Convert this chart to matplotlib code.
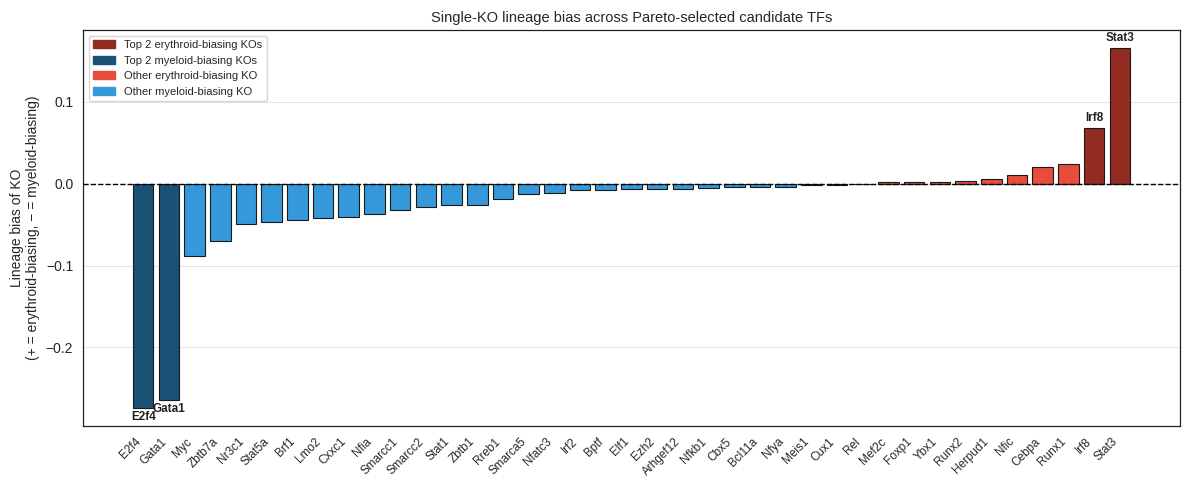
import numpy as np
import matplotlib
matplotlib.use("Agg")
import matplotlib.pyplot as plt
import seaborn as sns
from matplotlib.patches import Patch

tfs = ["E2f4", "Gata1", "Myc", "Zbtb7a", "Nr3c1", "Stat5a", "Brf1", "Lmo2", "Cxxc1", "Nfia",
       "Smarcc1", "Smarcc2", "Stat1", "Zbtb1", "Rreb1", "Smarca5", "Nfatc3", "Irf2", "Bptf", "Elf1",
       "Ezh2", "Arhgef12", "Nfkb1", "Cbx5", "Bcl11a", "Nfya", "Meis1", "Cux1", "Rel", "Mef2c",
       "Foxp1", "Ybx1", "Runx2", "Herpud1", "Nfic", "Cebpa", "Runx1", "Irf8", "Stat3"]
bias = [-0.274, -0.264, -0.088, -0.0698, -0.0489, -0.0465, -0.0441, -0.0416, -0.0404, -0.0367,
        -0.0318, -0.0282, -0.0257, -0.0255, -0.0184, -0.0122, -0.011, -0.0073, -0.0073, -0.006,
        -0.006, -0.006, -0.0049, -0.0035, -0.0035, -0.0035, -0.001, -0.001, -0.0003, 0.0018,
        0.002, 0.002, 0.004, 0.0055, 0.011, 0.0205, 0.024, 0.068, 0.166]
top_ery = ["Irf8", "Stat3"]
top_mye = ["E2f4", "Gata1"]

c_top_ery = "#922B21"
c_top_mye = "#1A5276"
c_ery = "#E74C3C"
c_mye = "#3498DB"

sns.set_style("white")
plt.rcParams['font.family'] = ['Liberation Sans', 'DejaVu Sans']

colors = []
for tf, v in zip(tfs, bias):
    if tf in top_ery:
        colors.append(c_top_ery)
    elif tf in top_mye:
        colors.append(c_top_mye)
    elif v > 0:
        colors.append(c_ery)
    else:
        colors.append(c_mye)

fig, ax = plt.subplots(figsize=(11.89, 4.9), dpi=100)
x = np.arange(len(tfs))
ax.bar(x, bias, color=colors, edgecolor="#1a1a1a", linewidth=0.8, width=0.8, zorder=3)
ax.axhline(0, color="black", linestyle="--", linewidth=1, zorder=4)
ax.grid(axis="y", color="#e6e6e6", linewidth=0.8, zorder=0)

# label the top hits
for i, (tf, v) in enumerate(zip(tfs, bias)):
    if tf in top_ery:
        ax.annotate(tf, (i, v), xytext=(0, 3), textcoords="offset points",
                    ha="center", va="bottom", fontsize=8.5, fontweight="bold", color="#222222")
    elif tf in top_mye:
        ax.annotate(tf, (i, v), xytext=(0, -2), textcoords="offset points",
                    ha="center", va="top", fontsize=8.5, fontweight="bold", color="#222222")

ax.set_xticks(x)
ax.set_xticklabels(tfs, rotation=45, ha="right", fontsize=8.5)
ax.tick_params(axis="y", labelsize=10)
ax.set_ylabel("Lineage bias of KO\n(+ = erythroid-biasing, \u2212 = myeloid-biasing)", fontsize=10)
ax.set_title("Single-KO lineage bias across Pareto-selected candidate TFs", fontsize=10.5)
ax.set_yticks([-0.2, -0.1, 0.0, 0.1])

for s in ax.spines.values():
    s.set_color("#222222")
    s.set_linewidth(0.9)

handles = [Patch(color=c_top_ery, label="Top 2 erythroid-biasing KOs"),
           Patch(color=c_top_mye, label="Top 2 myeloid-biasing KOs"),
           Patch(color=c_ery, label="Other erythroid-biasing KO"),
           Patch(color=c_mye, label="Other myeloid-biasing KO")]
ax.legend(handles=handles, loc="upper left", fontsize=8, frameon=True)

plt.subplots_adjust(left=0.0698, right=0.9924, top=0.9388, bottom=0.1306)
plt.savefig("out.png", dpi=100)
